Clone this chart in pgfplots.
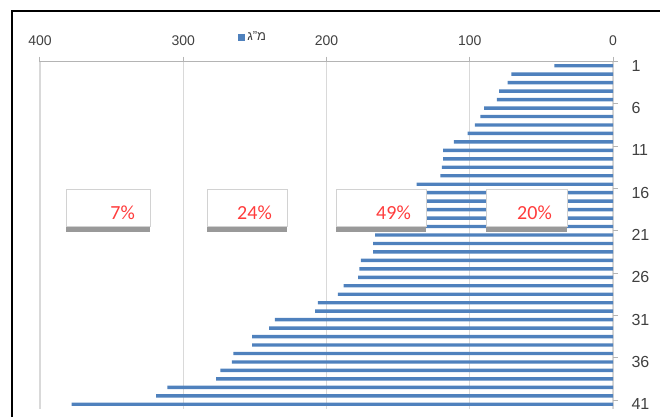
\documentclass[border=0pt]{standalone}
\usepackage{pgfplots}
\pgfplotsset{compat=1.18}
\usepackage{fontspec}
\setmainfont{Liberation Sans}
\newfontfamily\carl{Carlito}
\TeXXeTstate=1
\definecolor{barblue}{RGB}{79,129,189}
\definecolor{gridgray}{RGB}{217,217,217}
\definecolor{axgray}{RGB}{180,180,180}
\definecolor{labgray}{RGB}{64,64,64}
\definecolor{pctred}{RGB}{255,60,60}
\pgfplotstableread{
cat val
1 41
2 71
3 73.5
4 79.5
5 81
6 90
7 92.5
8 96.5
9 101.5
10 111
11 118.5
12 118.5
13 119.5
14 120.5
15 137
16 142
17 148
18 154
19 159
20 163
21 166
22 167.5
23 167.5
24 176
25 177
26 178
27 188
28 192
29 206
30 208
31 236
32 240
33 252
34 252
35 265
36 266
37 274
38 277
39 311
40 319
41 378
}\datatable
\begin{document}
\begin{tikzpicture}[x=1pt,y=1pt]
\useasboundingbox (-40,-8.5) rectangle (620,408.5);
\begin{axis}[
  at={(0,0)}, anchor=south west,
  scale only axis, width=573pt, height=347pt,
  xbar, bar width=3.4pt,
  xmin=0, xmax=400, x dir=reverse,
  ymin=0.5, ymax=41.5, y dir=reverse,
  axis line style={draw=none},
  /pgf/number format/assume math mode=true,
  xtick={0,100,200,300,400},
  xticklabel pos=upper,
  xtick pos=upper,
  xmajorgrids, grid style={gridgray, line width=1.2pt},
  major tick length=5pt, tick align=outside,
  tick style={axgray, line width=1pt},
  xticklabel style={font=\fontsize{14}{14}\selectfont, text=labgray, yshift=7pt},
  ytick={0.5,5.5,10.5,15.5,20.5,25.5,30.5,35.5,40.5},
  yticklabels={},
  ytick pos=right,
  yticklabel pos=right,
  extra y ticks={1,6,...,41},
  extra y tick style={tick style={draw=none}},
  yticklabel style={font=\fontsize{16}{16}\selectfont, text=labgray, anchor=west, xshift=10pt},
  legend style={at={(axis description cs:0.372,1.07)}, anchor=center, draw=none, fill=none,
    font=\fontsize{13}{13}\selectfont, text=labgray, inner sep=0pt},
  legend image code/.code={\fill[barblue] (0pt,-3.5pt) rectangle (7pt,3.5pt);},
]
\addplot[fill=barblue, draw=none] table[x=val, y=cat] {\datatable};
\addlegendentry{\beginR מ"ג\endR}
\draw[axgray, line width=1pt] (axis cs:400,0.5) -- (axis cs:0,0.5) -- (axis cs:0,41.5);
\end{axis}
% text boxes
\foreach \xa/\xb/\t in {26/110/7\%, 167/247/24\%, 296/386/49\%, 446/527/20\%}{
  \fill[gray!80] (\xa,176.5) rectangle (\xb,182);
  \filldraw[fill=white, draw=gray!35, line width=1pt] (\xa,181.5) rectangle (\xb,218.5);
  \node[anchor=east, inner sep=0pt, text=pctred, font=\carl\fontsize{20}{20}\selectfont] at (\xb-15,196) {\t};
}
% frame
\draw[black, line width=2pt] (-28,-8.5) -- (-28,397.5) -- (620,397.5);
\end{tikzpicture}
\end{document}
